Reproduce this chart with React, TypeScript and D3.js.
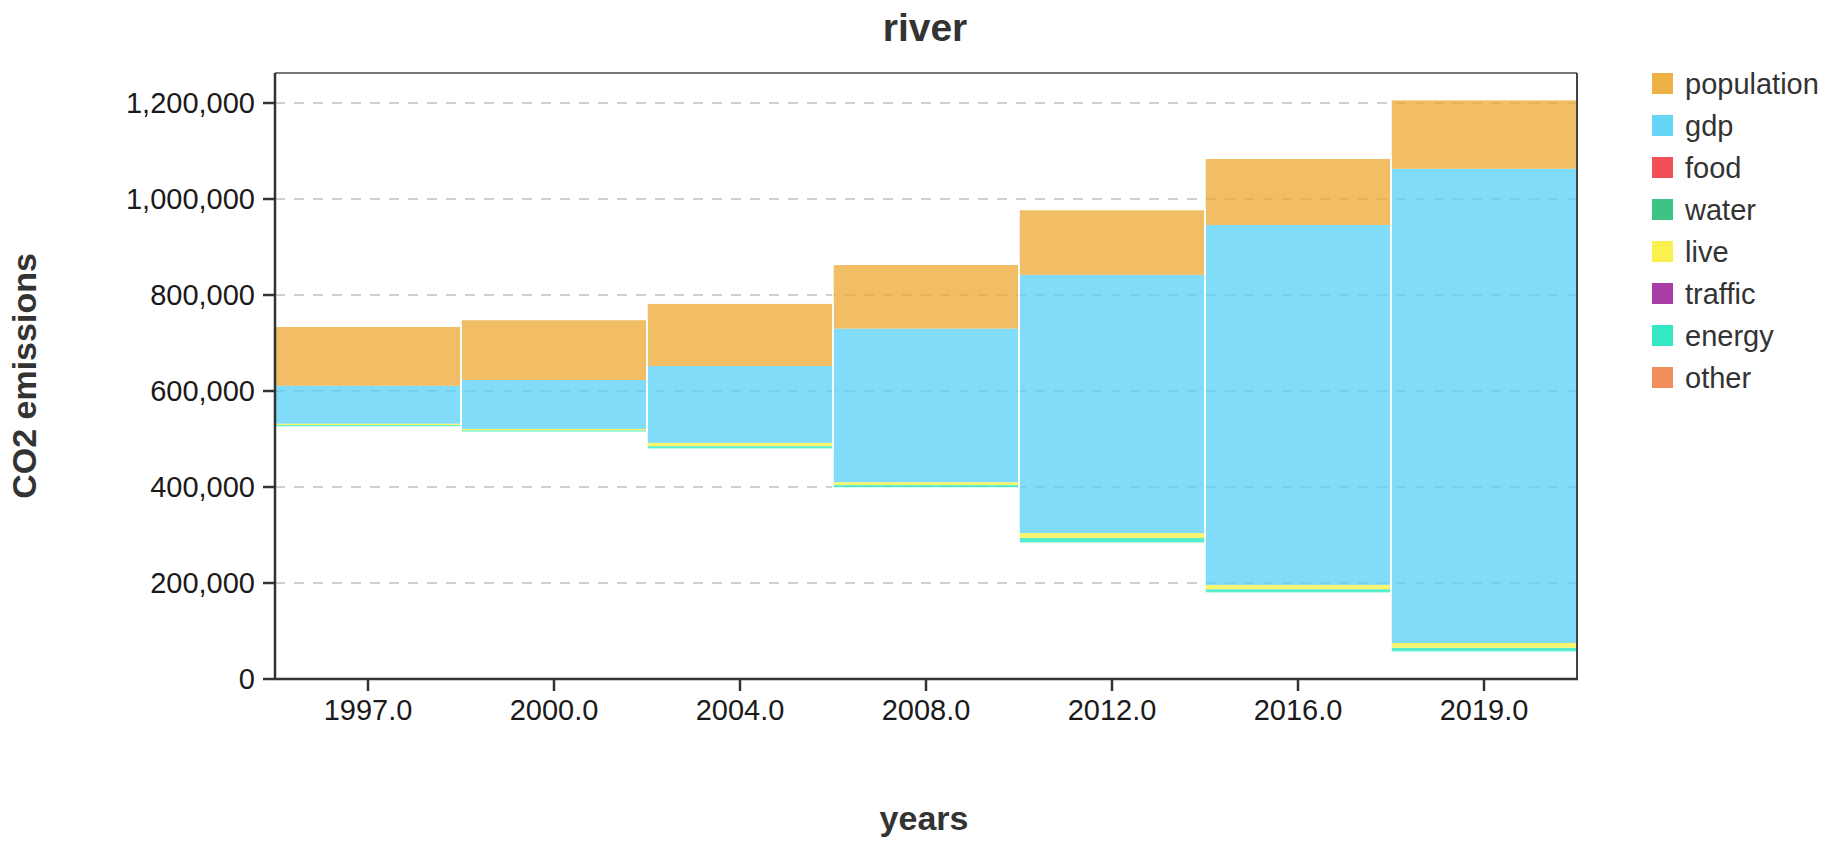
import { useEffect } from 'react';
import * as d3 from 'd3';

// values
const years = ['1997', '2000', '2004', '2008', '2012', '2016', '2019'];
const offset = [525000, 514000, 479000, 398000, 283000, 179000, 56000];
const other = [0, 0, 0, 0, 0, 0, 0];
const energy = [4000, 4000, 6000, 6000, 11000, 8000, 9000];
const traffic = [0, 0, 0, 0, 0, 0, 0];
const live = [3000, 3000, 7000, 6000, 10000, 9000, 10000];
const water = [0, 0, 0, 0, 0, 0, 0];
const food = [0, 0, 0, 0, 0, 0, 0];
const gdp = [79000, 102000, 160000, 320000, 538000, 750000, 988000];
const population = [124000, 126000, 131000, 134000, 136000, 139000, 144000];
const yTicks = [0, 200000, 400000, 600000, 800000, 1000000, 1200000];

const legendKeys = ['population', 'gdp', 'food', 'water', 'live', 'traffic', 'energy', 'other'];
const colors: Record<string, string> = {
  population: '#eca832',
  gdp: '#55d0f5',
  food: '#f23c46',
  water: '#28be78',
  live: '#faf03c',
  traffic: '#a0289b',
  energy: '#1ee6be',
  other: '#f0824b',
};

const stackKeys = ['offset', 'other', 'energy', 'traffic', 'live', 'water', 'food', 'gdp', 'population'];
const series: Record<string, number[]> = { offset, other, energy, traffic, live, water, food, gdp, population };

const W = 1831;
const H = 851;
const left = 275;
const right = 1577;
const top = 73;
const bottom = 679;
const font = '"Liberation Sans", Arial, sans-serif';

export default function App() {
  useEffect(() => {
    document.body.style.margin = '0';
  }, []);

  const rows = years.map((yr, i) => {
    const r: Record<string, any> = { year: yr };
    stackKeys.forEach((k) => (r[k] = series[k][i]));
    return r;
  });
  const stacked = d3.stack<any>().keys(stackKeys)(rows);

  const x = d3.scaleBand<string>().domain(years).range([left, right]).padding(0);
  const y = d3.scaleLinear().domain([0, 1200000]).range([bottom, 103]);
  const fmt = d3.format(',');

  return (
    <svg width={W} height={H} style={{ display: 'block', fontFamily: font }}>
      <text x={925} y={41} textAnchor="middle" fontSize={39} fontWeight="bold" fill="#333">
        river
      </text>

      {/* grid */}
      {yTicks.filter((t) => t > 0).map((t) => (
        <line key={t} x1={left} x2={right} y1={y(t)} y2={y(t)} stroke="#d0d0d0" strokeWidth={2} strokeDasharray="10,9" />
      ))}

      {/* bars */}
      {stacked.filter((s) => s.key !== 'offset').map((s) => (
        <g key={s.key} fill={colors[s.key]} fillOpacity={0.75}>
          {s.map((d, i) => {
            const h = y(d[0]) - y(d[1]);
            if (h <= 0) return null;
            return (
              <rect key={i} x={x(years[i])!} y={y(d[1])} width={x.bandwidth()} height={h} />
            );
          })}
        </g>
      ))}
      {/* white separators between bars */}
      {years.map((yr, i) => {
        const s0 = stacked[0][i][1];
        const s1 = stacked[stacked.length - 1][i][1];
        return (
          <rect key={yr} x={x(yr)!} y={y(s1)} width={x.bandwidth()} height={y(s0) - y(s1)} fill="none" stroke="#fff" strokeWidth={1.5} />
        );
      })}

      {/* frame */}
      <line x1={left} x2={right} y1={top} y2={top} stroke="#777" strokeWidth={2} />
      <line x1={right} x2={right} y1={top} y2={bottom} stroke="#444" strokeWidth={2} />

      {/* y axis */}
      <line x1={left} x2={left} y1={top} y2={bottom + 1} stroke="#333" strokeWidth={2.5} />
      {yTicks.map((t) => (
        <g key={t}>
          <line x1={left - 12} x2={left} y1={y(t)} y2={y(t)} stroke="#333" strokeWidth={2.5} />
          <text x={left - 20} y={y(t)} dy="0.35em" textAnchor="end" fontSize={29} fill="#1a1a1a">
            {fmt(t)}
          </text>
        </g>
      ))}

      {/* x axis */}
      <line x1={left} x2={right + 1} y1={bottom} y2={bottom} stroke="#333" strokeWidth={2.5} />
      {years.map((yr) => {
        const cx = x(yr)! + x.bandwidth() / 2;
        return (
          <g key={yr}>
            <line x1={cx} x2={cx} y1={bottom} y2={bottom + 12} stroke="#333" strokeWidth={2.5} />
            <text x={cx} y={720} textAnchor="middle" fontSize={29} fill="#1a1a1a">
              {`${yr}.0`}
            </text>
          </g>
        );
      })}

      <text x={924} y={830} textAnchor="middle" fontSize={34} fontWeight="bold" fill="#333">
        years
      </text>
      <text
        transform={`translate(36,${(top + bottom) / 2}) rotate(-90)`}
        textAnchor="middle"
        fontSize={34}
        fontWeight="bold"
        fill="#333"
      >
        CO2 emissions
      </text>

      {/* legend */}
      {legendKeys.map((k, i) => {
        const ly = 73 + i * 42;
        return (
          <g key={k}>
            <rect x={1652} y={ly} width={21} height={21} fill={colors[k]} fillOpacity={0.9} />
            <text x={1685} y={ly + 21} fontSize={29} fill="#333">
              {k}
            </text>
          </g>
        );
      })}
    </svg>
  );
}
